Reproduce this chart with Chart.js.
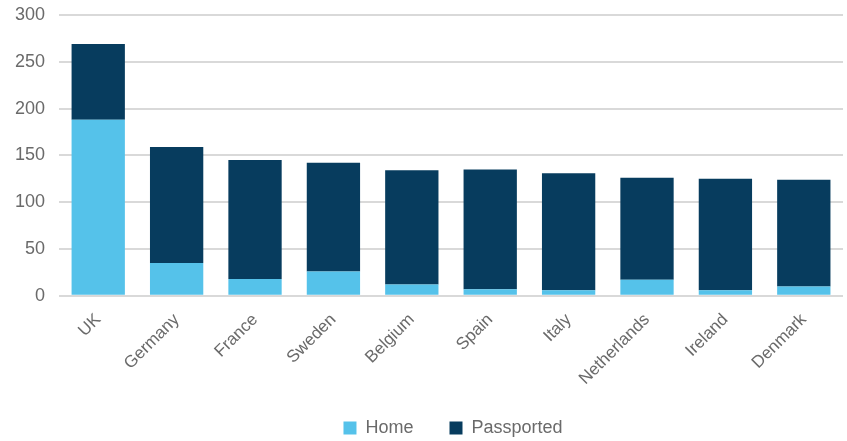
<!DOCTYPE html>
<html>
<head>
<meta charset="utf-8">
<script src="https://cdn.jsdelivr.net/npm/chart.js@4/dist/chart.umd.min.js"></script>
<style>
html,body{margin:0;padding:0;background:#fff;}
#wrap{width:847px;height:441px;position:relative;}
</style>
</head>
<body>
<div id="wrap"><canvas id="c"></canvas></div>
<script>
const categories = ["UK","Germany","France","Sweden","Belgium","Spain","Italy","Netherlands","Ireland","Denmark"];
const homeValues = [188,35,18,26,12,7,6,17,6,10];
const passportedValues = [81,124,127,116,122,128,125,109,119,114];
const yTicks = [0,50,100,150,200,250,300];

const font = "'Liberation Sans', Arial, sans-serif";
const txt = '#6a6a6a';
const FIT_PAD = 24, DRAW_PAD = 36;
const legendToPlot = {
  id:'legendToPlot',
  afterLayout(chart){
    const lg = chart.legend;
    if (lg) {
      lg.left = chart.chartArea.left - 20; lg.right = chart.chartArea.right; lg.width = lg.right - lg.left;
      lg.options.labels.padding = DRAW_PAD;
      lg.top -= (DRAW_PAD - FIT_PAD);
    }
  },
  beforeUpdate(chart){
    if (chart.legend) chart.legend.options.labels.padding = FIT_PAD;
  }
};
new Chart(document.getElementById('c'), {
  type: 'bar',
  data: {
    labels: categories,
    datasets: [
      {label:'Home', data: homeValues, backgroundColor:'#55C2EA', categoryPercentage:1, barPercentage:0.68},
      {label:'Passported', data: passportedValues, backgroundColor:'#073C5E', categoryPercentage:1, barPercentage:0.68}
    ]
  },
  plugins:[legendToPlot],
  options: {
    responsive:true, maintainAspectRatio:false, animation:false,
    layout:{padding:{top:15,right:4,left:15,bottom:-6}},
    plugins:{
      legend:{position:'bottom', labels:{font:{family:font,size:18}, color:txt, boxWidth:13, boxHeight:13, padding:FIT_PAD}},
      tooltip:{enabled:false}
    },
    scales:{
      x:{stacked:true, grid:{display:false}, border:{display:false},
         ticks:{font:{family:font,size:17}, color:txt, maxRotation:45, minRotation:45, padding:6}},
      y:{stacked:true, min:0, max:300, border:{display:false},
         afterBuildTicks: ax => { ax.ticks = yTicks.map(v=>({value:v})); },
         grid:{color:'#d9d9d9', lineWidth:2, drawTicks:true, tickLength:14, tickColor:'rgba(0,0,0,0)'},
         ticks:{font:{family:font,size:18}, color:txt, padding:0}}
    }
  }
});
</script>
</body>
</html>
